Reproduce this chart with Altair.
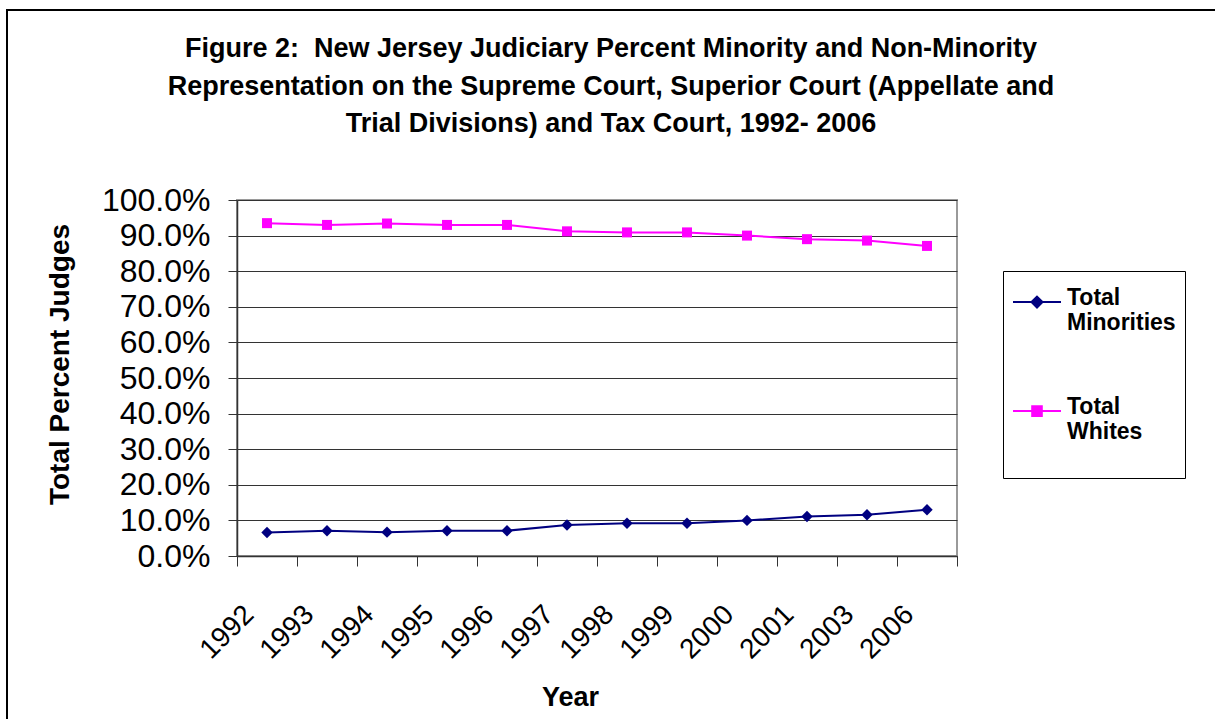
import altair as alt
import pandas as pd

years = ['1992', '1993', '1994', '1995', '1996', '1997', '1998', '1999', '2000', '2001', '2003', '2006']
minorities = [6.6, 7.1, 6.7, 7.1, 7.1, 8.7, 9.2, 9.2, 10.0, 11.1, 11.6, 13.0]
whites = [93.5, 93.0, 93.4, 93.0, 93.0, 91.2, 90.9, 90.9, 90.0, 89.0, 88.6, 87.1]
series_names = ['Total Minorities', 'Total Whites']
series_colors = ['#000080', '#FF00FF']
y_ticks = [round(k / 10, 1) for k in range(11)]
title_lines = [
    'Figure 2:\u00a0 New Jersey Judiciary Percent Minority and Non-Minority',
    'Representation on the Supreme Court, Superior Court (Appellate and',
    'Trial Divisions) and Tax Court, 1992- 2006',
]

rows = []
for y, m, w in zip(years, minorities, whites):
    rows.append({'Year': y, 'Series': series_names[0], 'Value': m / 100})
    rows.append({'Year': y, 'Series': series_names[1], 'Value': w / 100})
df = pd.DataFrame(rows)

FONT = 'Liberation Sans'

x_enc = alt.X('Year:N', sort=years,
              scale=alt.Scale(type='band', paddingInner=0, paddingOuter=0),
              axis=alt.Axis(title='Year', tickBand='extent', tickSize=10,
                            labelAngle=-45, labelAlign='right', labelBaseline='middle',
                            labelOffset=-18, labelPadding=44, labelFontSize=28,
                            titleX=333, titleY=141, titleAlign='center',
                            titleBaseline='middle', titleFontSize=27))
y_enc = alt.Y('Value:Q', scale=alt.Scale(domain=[0, 1]),
              axis=alt.Axis(title='Total Percent Judges', values=y_ticks, format='.1%',
                            grid=True, tickSize=9, labelPadding=18, labelFontSize=32,
                            titleX=-177, titleY=164, titleAngle=270, titleAlign='center',
                            titleBaseline='middle', titleFontSize=28))

base = alt.Chart(df)

frame = alt.Chart(alt.Data(values=[{}])).mark_rect(
    fill='white', fillOpacity=0, stroke='black', strokeWidth=2
).encode(x=alt.value(-230), x2=alt.value(1300), y=alt.value(-190), y2=alt.value(700))


def series_layers(name, color, shape, size):
    sub = base.transform_filter(alt.datum.Series == name)
    ln = sub.mark_line(strokeWidth=2, color=color).encode(x=x_enc, y=y_enc)
    pt = sub.mark_point(shape=shape, filled=True, size=size, opacity=1, color=color).encode(
        x=x_enc, y=y_enc)
    return [ln, pt]


legend_paths = [
    'M-1,-0.12H1M0,-0.35L0.23,-0.12L0,0.11L-0.23,-0.12Z',
    'M-1,-0.12H1M-0.2,-0.32H0.2V0.08H-0.2Z',
]

legend_spec = alt.Legend(
    title=None, orient='none', legendX=766, legendY=71,
    labelExpr="datum.label == 'Total Whites' ? ['Total', 'Whites', ' '] : split(datum.label, ' ')",
    labelBaseline='alphabetic',
    labelFont=FONT, labelFontWeight='bold', labelFontSize=23,
    labelColor='black', labelLimit=400, labelOffset=5,
    symbolSize=2304, symbolStrokeWidth=2, symbolOpacity=1,
    rowPadding=54, padding=9,
    strokeColor='black', fillColor='white')

legend_layer = base.transform_filter('false').mark_point(filled=True, opacity=1).encode(
    x=x_enc, y=y_enc,
    color=alt.Color('Series:N', scale=alt.Scale(domain=series_names, range=series_colors),
                    legend=legend_spec),
    stroke=alt.Stroke('Series:N', scale=alt.Scale(domain=series_names, range=series_colors),
                      legend=legend_spec),
    shape=alt.Shape('Series:N', scale=alt.Scale(domain=series_names, range=legend_paths),
                    legend=legend_spec),
)

layers = [frame]
layers += series_layers(series_names[0], series_colors[0], 'diamond', 130)
layers += series_layers(series_names[1], series_colors[1], 'square', 100)
layers.append(legend_layer)

chart = alt.layer(*layers).properties(
    width=720, height=356,
    autosize=alt.AutoSizeParams(type='none'),
    padding={'left': 237, 'top': 200, 'right': 258, 'bottom': 163},
    title=alt.Title(title_lines, fontSize=27, font=FONT, fontWeight='bold',
                    anchor='middle', frame='group', dx=14, offset=-129,
                    lineHeight=37.5, color='black'),
).configure(
    font=FONT, background='white'
).configure_view(
    stroke='#9a9a9a', strokeWidth=2
).configure_axis(
    labelFont=FONT, titleFont=FONT, labelColor='black', titleColor='black',
    titleFontWeight='bold', domainColor='#333333', tickColor='#333333',
    gridColor='#333333', domainWidth=1.5, labelLimit=400,
)

chart.save('out.html', embed_options={'renderer': 'svg', 'actions': False})
